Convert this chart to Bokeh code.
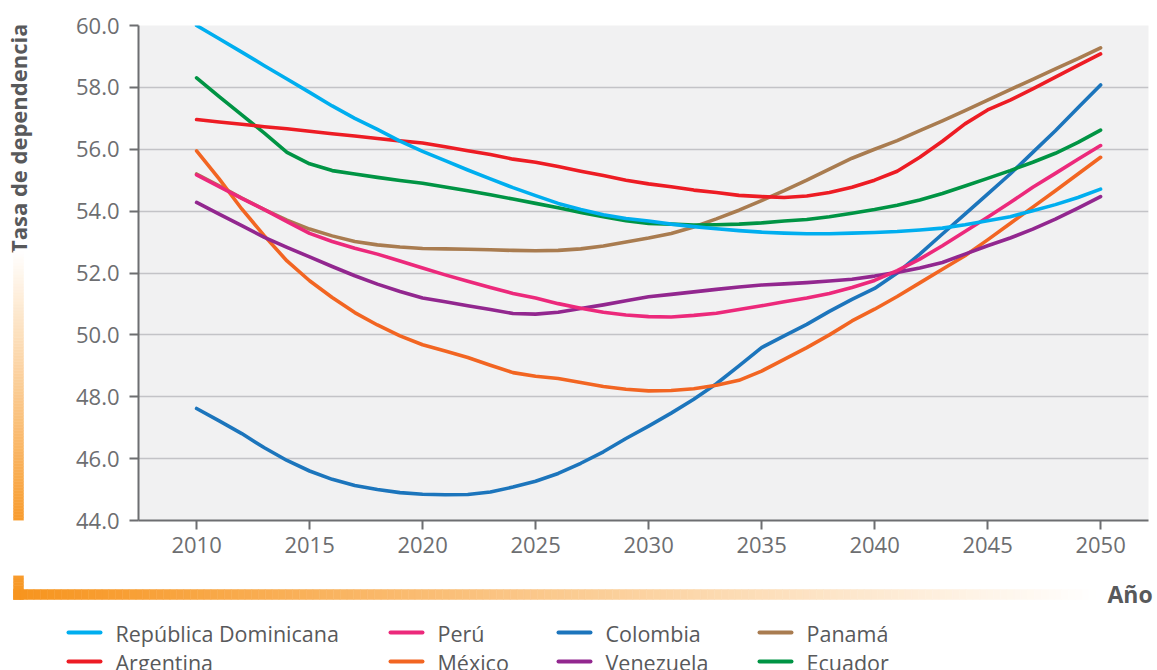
import numpy as np
from bokeh.plotting import figure
from bokeh.models import Range1d, FixedTicker, PrintfTickFormatter
from bokeh.layouts import column, row
from bokeh.embed import file_html
from bokeh.resources import INLINE
from bokeh.core.properties import value

# Dependency ratio projections, yearly 2010-2050
years = list(range(2010, 2051))

rep_dominicana = [
    60.0, 59.57, 59.14, 58.7, 58.27, 57.84, 57.4, 57.0, 56.64, 56.26, 55.93,
    55.63, 55.33, 55.04, 54.76, 54.5, 54.25, 54.05, 53.88, 53.76, 53.68,
    53.58, 53.5, 53.43, 53.37, 53.32, 53.29, 53.27, 53.27, 53.29, 53.31,
    53.34, 53.39, 53.45, 53.56, 53.69, 53.82, 54.01, 54.21, 54.44, 54.71]
argentina = [
    56.96, 56.88, 56.81, 56.73, 56.66, 56.58, 56.5, 56.43, 56.35, 56.27, 56.2,
    56.08, 55.95, 55.83, 55.68, 55.58, 55.44, 55.29, 55.15, 55.0, 54.88,
    54.79, 54.68, 54.6, 54.51, 54.47, 54.44, 54.49, 54.6, 54.77, 55.0,
    55.29, 55.74, 56.26, 56.82, 57.27, 57.59, 57.95, 58.33, 58.71, 59.08]
peru = [
    55.17, 54.79, 54.41, 54.05, 53.66, 53.28, 53.02, 52.8, 52.61, 52.39, 52.16,
    51.94, 51.73, 51.53, 51.34, 51.19, 51.01, 50.86, 50.73, 50.64, 50.59,
    50.58, 50.63, 50.7, 50.82, 50.94, 51.07, 51.19, 51.34, 51.53, 51.76,
    52.08, 52.45, 52.88, 53.34, 53.8, 54.28, 54.77, 55.22, 55.68, 56.12]
mexico = [
    55.95, 55.04, 54.07, 53.2, 52.39, 51.75, 51.21, 50.72, 50.32, 49.97, 49.68,
    49.48, 49.27, 49.02, 48.78, 48.66, 48.59, 48.46, 48.33, 48.24, 48.19,
    48.2, 48.26, 48.37, 48.53, 48.83, 49.21, 49.59, 50.0, 50.45, 50.83,
    51.24, 51.68, 52.12, 52.56, 53.07, 53.6, 54.13, 54.66, 55.2, 55.74]
colombia = [
    47.62, 47.22, 46.81, 46.35, 45.94, 45.6, 45.33, 45.13, 45.0, 44.9, 44.85,
    44.83, 44.84, 44.92, 45.08, 45.27, 45.52, 45.85, 46.22, 46.65, 47.05,
    47.47, 47.92, 48.42, 49.0, 49.59, 49.97, 50.34, 50.76, 51.15, 51.5,
    52.0, 52.61, 53.26, 53.9, 54.55, 55.2, 55.9, 56.6, 57.34, 58.08]
venezuela = [
    54.28, 53.9, 53.53, 53.15, 52.83, 52.52, 52.21, 51.91, 51.64, 51.4, 51.19,
    51.07, 50.94, 50.82, 50.69, 50.67, 50.73, 50.85, 50.97, 51.1, 51.23,
    51.31, 51.39, 51.47, 51.55, 51.61, 51.65, 51.69, 51.74, 51.8, 51.9,
    52.02, 52.16, 52.34, 52.61, 52.88, 53.13, 53.42, 53.74, 54.1, 54.47]
panama = [
    55.2, 54.82, 54.42, 54.05, 53.71, 53.42, 53.2, 53.02, 52.91, 52.84, 52.79,
    52.78, 52.77, 52.75, 52.73, 52.72, 52.73, 52.78, 52.87, 53.0, 53.13,
    53.28, 53.49, 53.75, 54.03, 54.34, 54.66, 55.0, 55.36, 55.71, 56.0,
    56.28, 56.6, 56.92, 57.25, 57.59, 57.93, 58.26, 58.6, 58.93, 59.28]
ecuador = [
    58.31, 57.7, 57.11, 56.52, 55.9, 55.53, 55.31, 55.2, 55.09, 54.99, 54.9,
    54.78, 54.66, 54.53, 54.39, 54.25, 54.11, 53.96, 53.82, 53.69, 53.6,
    53.58, 53.55, 53.56, 53.58, 53.62, 53.68, 53.73, 53.82, 53.93, 54.05,
    54.19, 54.36, 54.57, 54.81, 55.06, 55.31, 55.58, 55.87, 56.22, 56.62]

x_ticks = [2010, 2015, 2020, 2025, 2030, 2035, 2040, 2045, 2050]
y_ticks = [44, 46, 48, 50, 52, 54, 56, 58, 60]

y_title = "Tasa de dependencia"
x_title = "Año"

series = {
    "República Dominicana": (rep_dominicana, "#00aeef"),
    "Argentina": (argentina, "#ed1c24"),
    "Perú": (peru, "#ec297b"),
    "México": (mexico, "#f26522"),
    "Colombia": (colombia, "#1c75bc"),
    "Venezuela": (venezuela, "#92278f"),
    "Panamá": (panama, "#a97c50"),
    "Ecuador": (ecuador, "#009444"),
}
draw_order = ["Panamá", "Colombia", "México", "Venezuela", "Perú",
              "Ecuador", "Argentina", "República Dominicana"]
legend_rows = [["República Dominicana", "Perú", "Colombia", "Panamá"],
               ["Argentina", "México", "Venezuela", "Ecuador"]]

FONT = "Open Sans"
AXIS_GRAY = "#6d6e71"
TITLE_GRAY = "#58595b"
ORANGE = (247, 148, 29)

W, H = 1157, 670
TOP_H = 575
LEFT_W = 40


def fade(f):
    f = min(max(f, 0.0), 1.0)
    r, g, b = (int(round(c + (255 - c) * f)) for c in ORANGE)
    return "#%02x%02x%02x" % (r, g, b)


def blank(width, height):
    fig = figure(width=width, height=height, x_range=Range1d(0, width),
                 y_range=Range1d(0, height), output_backend="svg",
                 toolbar_location=None, min_border=0,
                 x_axis_type=None, y_axis_type=None)
    fig.grid.visible = False
    fig.outline_line_color = None
    fig.background_fill_color = "white"
    fig.border_fill_color = "white"
    return fig


# ---- main chart ----
p = figure(width=W - LEFT_W, height=TOP_H,
           x_range=Range1d(2007.43, 2052.12), y_range=Range1d(44, 60),
           output_backend="svg", toolbar_location=None,
           min_border_left=98, min_border_right=9,
           min_border_top=25, min_border_bottom=55)
p.background_fill_color = "#f1f1f2"
p.border_fill_color = "white"
p.outline_line_color = None

p.xgrid.grid_line_color = None
p.ygrid.grid_line_color = "#c3c3c7"
p.ygrid.grid_line_width = 1.5
p.ygrid.ticker = FixedTicker(ticks=y_ticks)

p.xaxis.ticker = FixedTicker(ticks=x_ticks)
p.yaxis.ticker = FixedTicker(ticks=y_ticks)
p.yaxis.formatter = PrintfTickFormatter(format="%.1f")
for ax in (p.xaxis[0], p.yaxis[0]):
    ax.axis_line_color = AXIS_GRAY
    ax.axis_line_width = 2
    ax.major_tick_line_color = AXIS_GRAY
    ax.major_tick_line_width = 2
    ax.major_tick_out = 9
    ax.major_tick_in = 0
    ax.minor_tick_line_color = None
    ax.major_label_text_font = FONT
    ax.major_label_text_font_size = "22px"
    ax.major_label_text_color = AXIS_GRAY
p.yaxis.major_label_standoff = 10
p.xaxis.major_label_standoff = 7

for name in draw_order:
    vals, color = series[name]
    p.line(years, vals, line_color=color, line_width=3.6,
           line_join="round", line_cap="round")

# ---- left strip: vertical title and fading bar ----
left = blank(LEFT_W, TOP_H)
left.text(x=[17], y=[TOP_H - 131], text=[y_title], angle=np.pi / 2,
          text_align="center", text_baseline="middle",
          text_font=value(FONT), text_font_style="bold",
          text_font_size="22px", text_color=TITLE_GRAY)

corner_y = 599   # page y of the bar corner (bottom edge)
bar_top = 262
n = 90
edges = np.linspace(bar_top, TOP_H, n + 1)
cols = [fade((corner_y - 0.5 * (a + b)) / (corner_y - bar_top))
        for a, b in zip(edges[:-1], edges[1:])]
left.quad(left=13, right=23, top=TOP_H - edges[:-1], bottom=TOP_H - edges[1:],
          fill_color=cols, line_color=cols, line_width=0.5)

# ---- bottom strip: horizontal fading bar, axis title, legend ----
BOT_H = H - TOP_H
bottom = blank(W, BOT_H)

edges = np.linspace(TOP_H, corner_y, 8)
cols = [fade((corner_y - 0.5 * (a + b)) / (corner_y - bar_top))
        for a, b in zip(edges[:-1], edges[1:])]
bottom.quad(left=13, right=23, top=H - edges[:-1], bottom=H - edges[1:],
            fill_color=cols, line_color=cols, line_width=0.5)

bar_start, bar_end = 13, 1095
edges = np.linspace(bar_start, bar_end, 160)
cols = [fade((0.5 * (a + b) - bar_start) / (bar_end - bar_start))
        for a, b in zip(edges[:-1], edges[1:])]
bottom.quad(left=edges[:-1], right=edges[1:], top=H - 589, bottom=H - 599,
            fill_color=cols, line_color=cols, line_width=0.5)

bottom.text(x=[1107], y=[H - 593.5], text=[x_title], text_align="left",
            text_baseline="middle", text_font=value(FONT),
            text_font_style="bold", text_font_size="23px",
            text_color=TITLE_GRAY)

col_x = [68, 390, 558, 759]
row_y = [632, 661]
for r, names in enumerate(legend_rows):
    for c, name in enumerate(names):
        color = series[name][1]
        x0 = col_x[c]
        bottom.segment(x0=[x0], y0=[H - row_y[r]], x1=[x0 + 32],
                       y1=[H - row_y[r]], line_color=color, line_width=4,
                       line_cap="round")
        bottom.text(x=[x0 + 47], y=[H - row_y[r] - 1], text=[name],
                    text_align="left", text_baseline="middle",
                    text_font=value(FONT), text_font_size="21.5px",
                    text_color=TITLE_GRAY)

layout = column(row(left, p, spacing=0), bottom, spacing=0)
open("out.html", "w").write(file_html(layout, INLINE))
